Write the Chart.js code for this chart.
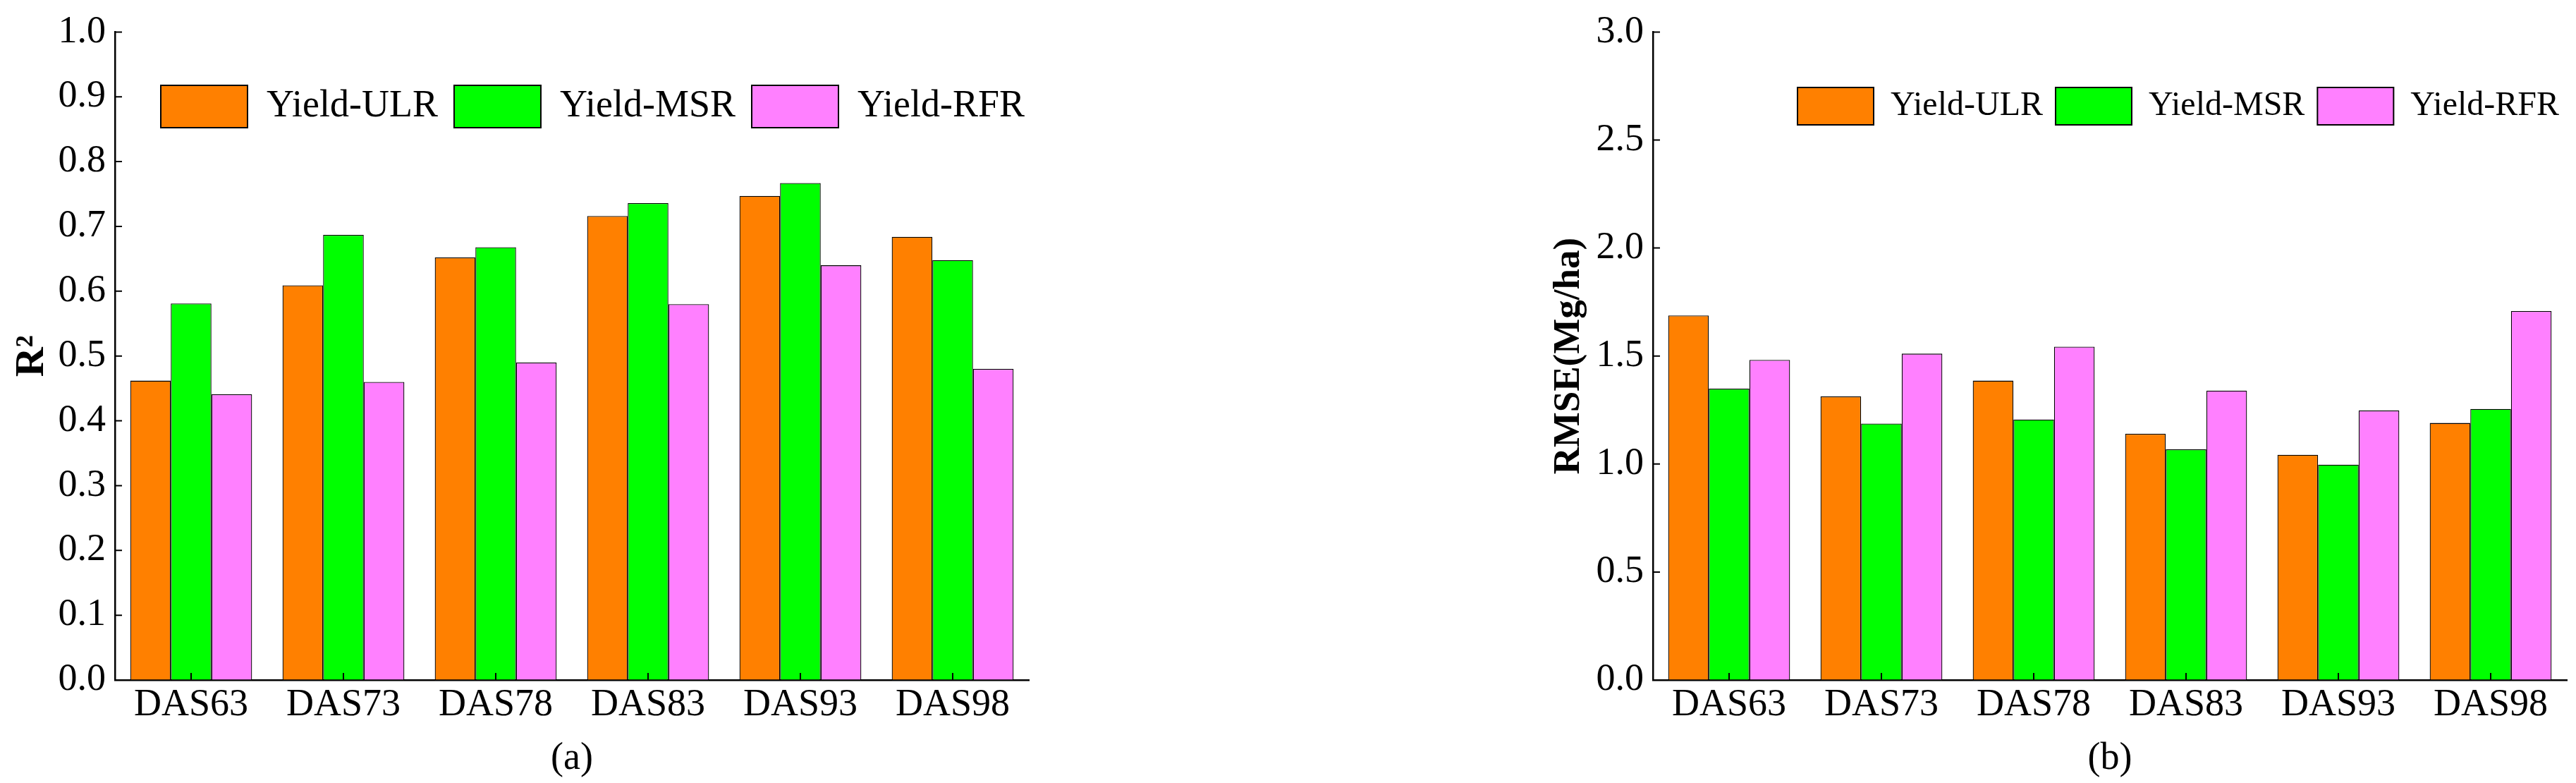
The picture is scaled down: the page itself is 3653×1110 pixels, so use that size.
<!DOCTYPE html>
<html>
<head>
<meta charset="utf-8">
<script src="https://cdn.jsdelivr.net/npm/chart.js@4/dist/chart.umd.min.js"></script>
<style>
  html, body { margin: 0; padding: 0; background: #fff; }
  body { width: 3653px; height: 1110px; position: relative; overflow: hidden; }
  canvas { position: absolute; top: 0; }
  #chartA { left: 0; }
  #chartB { left: 2150px; }
</style>
</head>
<body>
<canvas id="chartA" width="1500" height="1110" style="width:1500px;height:1110px"></canvas>
<canvas id="chartB" width="1503" height="1110" style="width:1503px;height:1110px"></canvas>
<script>
const categories = ['DAS63', 'DAS73', 'DAS78', 'DAS83', 'DAS93', 'DAS98'];
const seriesNames = ['Yield-ULR', 'Yield-MSR', 'Yield-RFR'];
const seriesColors = ['#FF8000', '#00FF00', '#FF80FF'];

// panel (a) R^2
const r2ULR = [0.462, 0.609, 0.652, 0.716, 0.747, 0.684];
const r2MSR = [0.581, 0.687, 0.668, 0.736, 0.767, 0.648];
const r2RFR = [0.441, 0.460, 0.490, 0.580, 0.640, 0.480];

// panel (b) RMSE (Mg/ha)
const rmseULR = [1.688, 1.313, 1.386, 1.140, 1.043, 1.190];
const rmseMSR = [1.349, 1.187, 1.206, 1.068, 0.997, 1.255];
const rmseRFR = [1.482, 1.511, 1.543, 1.340, 1.248, 1.708];

const SERIF = "'Liberation Serif', 'Times New Roman', serif";
const PLOT_TOP = 40;
const PLOT_BOTTOM = 964;
const TICK_LEN = 10;

// ticks drawn on the inside of the axes, like the original
const innerTicks = {
    id: 'innerTicks',
    afterDraw(chart) {
        const { ctx } = chart;
        const xs = chart.scales.x, ys = chart.scales.y;
        ctx.save();
        ctx.strokeStyle = '#000';
        ctx.lineWidth = 2;
        ctx.beginPath();
        xs.ticks.forEach((t, i) => {
            const px = xs.getPixelForTick(i);
            ctx.moveTo(px, xs.top);
            ctx.lineTo(px, xs.top - TICK_LEN);
        });
        ys.ticks.forEach((t, i) => {
            const py = ys.getPixelForTick(i);
            ctx.moveTo(ys.right, py);
            ctx.lineTo(ys.right + TICK_LEN, py);
        });
        ctx.stroke();
        ctx.restore();
    }
};

// move the legend box into the plot area
const legendInside = {
    id: 'legendInside',
    afterLayout(chart, args, opts) {
        const lg = chart.legend;
        if (!lg) return;
        const w = lg.width, h = lg.height;
        lg.left = opts.left;
        lg.right = opts.left + w;
        lg.top = opts.top;
        lg.bottom = opts.top + h;
    }
};

function makeChart(canvasId, cfg) {
    const datasets = cfg.values.map((vals, i) => ({
        label: seriesNames[i],
        data: vals,
        backgroundColor: seriesColors[i],
        borderColor: '#000',
        borderWidth: 1.3,
        categoryPercentage: 0.8,
        barPercentage: 1.0
    }));

    const chart = new Chart(document.getElementById(canvasId), {
        type: 'bar',
        data: { labels: categories, datasets: datasets },
        plugins: [innerTicks, legendInside],
        options: {
            responsive: false,
            animation: false,
            devicePixelRatio: 1,
            layout: { padding: { left: 0, right: cfg.padRight, top: PLOT_TOP, bottom: 0 } },
            plugins: {
                tooltip: { enabled: false },
                legend: {
                    position: 'top',
                    align: 'start',
                    labels: {
                        color: '#000',
                        font: { family: SERIF, size: cfg.legendFont },
                        boxWidth: cfg.boxW,
                        boxHeight: cfg.boxH,
                        padding: cfg.legendPad,
                        generateLabels(ch) {
                            return Chart.defaults.plugins.legend.labels.generateLabels(ch)
                                .map(l => Object.assign(l, { lineWidth: 2 }));
                        }
                    }
                },
                legendInside: { left: cfg.legendLeft, top: cfg.legendTop }
            },
            scales: {
                x: {
                    z: 1,
                    grid: { display: true, drawOnChartArea: false, drawTicks: false },
                    border: { display: true, color: '#000', width: 2.5 },
                    ticks: { color: '#000', padding: 3, font: { family: SERIF, size: 54 } },
                    title: {
                        display: true,
                        text: cfg.xTitle,
                        color: '#000',
                        font: { family: SERIF, size: 54 },
                        padding: { top: 0, bottom: 2 }
                    },
                    afterFit(scale) { scale.height = cfg.canvasH - PLOT_BOTTOM; }
                },
                y: {
                    z: 1,
                    min: 0,
                    max: cfg.yMax,
                    grid: { display: true, drawOnChartArea: false, drawTicks: false },
                    border: { display: true, color: '#000', width: 2.5 },
                    ticks: {
                        stepSize: cfg.yStep,
                        color: '#000',
                        padding: 13,
                        font: { family: SERIF, size: 54 },
                        callback: v => Number(v).toFixed(1)
                    },
                    title: {
                        display: true,
                        text: cfg.yTitle,
                        color: '#000',
                        font: { family: SERIF, size: cfg.yTitleFont, weight: 'bold' },
                        padding: { top: cfg.yTitlePad, bottom: 0 }
                    },
                    afterFit(scale) { scale.width = cfg.yAxisW; }
                }
            }
        }
    });

    // legend sits inside the plot, so take its height back from the top padding
    chart.options.layout.padding.top = PLOT_TOP - chart.legend.height;
    chart.update();
    return chart;
}

makeChart('chartA', {
    values: [r2ULR, r2MSR, r2RFR],
    yMax: 1.0, yStep: 0.1,
    yTitle: 'R²', yTitleFont: 58, yTitlePad: 11,
    xTitle: '(a)',
    yAxisW: 163, padRight: 41, canvasH: 1110,
    legendFont: 54, boxW: 123, boxH: 60, legendPad: 23,
    legendLeft: 205, legendTop: 98
});

makeChart('chartB', {
    values: [rmseULR, rmseMSR, rmseRFR],
    yMax: 3.0, yStep: 0.5,
    yTitle: 'RMSE(Mg/ha)', yTitleFont: 53, yTitlePad: 44,
    xTitle: '(b)',
    yAxisW: 194, padRight: 13, canvasH: 1110,
    legendFont: 48, boxW: 108, boxH: 53, legendPad: 18,
    legendLeft: 381, legendTop: 106
});
</script>
</body>
</html>
